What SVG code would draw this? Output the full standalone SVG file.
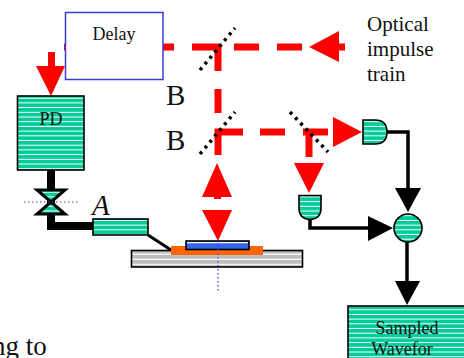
<svg xmlns="http://www.w3.org/2000/svg" width="464" height="358" viewBox="0 0 464 358">
<style>
text{font-family:"Liberation Serif","Times New Roman",serif;fill:#111}
.s18{font-size:18px;text-anchor:middle}
.big{font-size:29px}
.to{font-size:27px}
.opt{font-size:21px}
.red{fill:none;stroke:#f00;stroke-width:7}
.ra{fill:#f00}
.k{fill:none;stroke:#000;stroke-width:3.5}
.ka{fill:#000}
.dot{fill:none;stroke:#000;stroke-width:3.5;stroke-dasharray:3 4.6}
.bd{fill:none;stroke:#3c3ccc;stroke-width:1.2;stroke-dasharray:1.5 2.5}
.g{stroke:#000;stroke-width:1.6;fill:url(#h)}
</style>
<defs>
<pattern id="h" patternUnits="userSpaceOnUse" width="8" height="4.7"><rect width="8" height="4.7" fill="#00cc99"/><rect y="3.7" width="8" height="1" fill="#fff"/></pattern>
<pattern id="gh" patternUnits="userSpaceOnUse" width="8" height="5.2"><rect width="8" height="5.2" fill="#bdbdbd"/><rect y="4" width="8" height="1.2" fill="#fff"/></pattern>
</defs>
<g id="connectors">
<path class="red" d="M64 47H66M163 47H174M192 47H218V71M218 89V113M218 155V132H243M260 132H285M303 132H328M309 132V157M234 47H259M277 47H302M335 47H345"/>
<path class="ra" d="M309 47L339 31V62Z"/>
<path class="ra" d="M333 117L362 132L333 147Z"/>
<path class="ra" d="M294 163H324L309 193Z"/>
<path class="ra" d="M48 52H55V66H65L51 96L36 66H48Z"/>
<path class="ra" d="M202 197L217 163L232 197H221V199H214V197Z"/>
<path class="ra" d="M202 210H232L218 241Z"/>
<path class="k" d="M387 132H408V190"/>
<path class="ka" d="M395 188H421L408 212Z"/>
<path class="k" d="M310 219V228H370"/>
<path class="ka" d="M368 216L393 228L368 241Z"/>
<path class="k" d="M407 242V283"/>
<path class="ka" d="M395 281H420L407 305Z"/>
<path fill="none" stroke="#000" stroke-width="8" d="M51 170V226H94"/>
<path fill="none" stroke="#000" stroke-width="3" d="M148 235L171 250"/>
<path class="dot" d="M200 70L235 28"/>
<path class="dot" d="M200 154L235 112"/>
<path class="dot" d="M290 112L328 152"/>
</g>
<g id="delay"><rect x="65.5" y="12.5" width="97.5" height="67" fill="#fff" stroke="#3c3ccc" stroke-width="1.5"/><text class="s18" x="114" y="40">Delay</text></g>
<g id="pd"><rect class="g" x="17.5" y="96" width="66.5" height="74"/><text class="s18" x="51" y="125">PD</text></g>
<g id="switch"><path class="g" style="stroke-width:3" d="M37 190H65L37 214H65Z"/><path class="bd" d="M24 202H80"/></g>
<g id="antenna"><text class="big" style="font-style:italic" x="92" y="215">A</text><rect class="g" x="93" y="219" width="55" height="16"/></g>
<g id="sample">
<rect x="131.5" y="250.5" width="171" height="16.500" fill="url(#gh)" stroke="#000" stroke-width="1.600"/>
<rect x="171" y="246" width="92" height="9" fill="#f60"/>
<rect x="186" y="241" width="63" height="8.500" fill="#36e" stroke="#000" stroke-width="1.600"/>
<rect x="187" y="242" width="61" height="1.200" fill="#fff"/>
<path class="bd" d="M218 241V292"/>
</g>
<g id="labels">
<text class="big" x="166" y="105">B</text>
<text class="big" x="166" y="150">B</text>
<text class="opt" x="367" y="31">Optical</text>
<text class="opt" x="367" y="56">impulse</text>
<text class="opt" x="367" y="81">train</text>
<text class="to" x="-8" y="355">ng to</text>
</g>
<g id="detector1"><path class="g" d="M363 120H375Q387 120 387 132Q387 144 375 144H363Z"/></g>
<g id="detector2"><path class="g" d="M299 195.500H321V208Q321 219 310 219.500Q299 219 299 208Z"/></g>
<g id="mixer"><circle class="g" cx="408" cy="228" r="14"/></g>
<g id="output"><rect class="g" x="348" y="306" width="120" height="60"/><text class="s18" x="407" y="334">Sampled</text><text class="s18" x="402" y="355">Wavefor</text></g>
</svg>
